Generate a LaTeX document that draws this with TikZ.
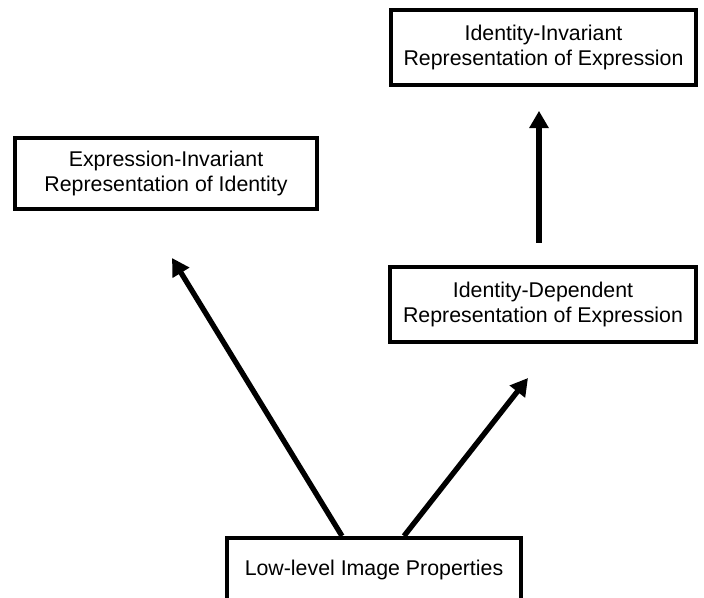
\documentclass[tikz,border=0pt]{standalone}
\usepackage{fontspec}
\setmainfont{Liberation Sans}
\usetikzlibrary{arrows.meta}
\tikzset{
  repbox/.style={
    draw,
    line width=3pt,
    align=center,
    inner sep=0pt,
    minimum width=229pt,
    minimum height=56pt,
    font=\fontsize{16}{19}\selectfont
  },
  bigarrow/.style={
    line width=4pt,
    -{Triangle[length=13pt,width=14pt]}
  }
}

\begin{document}
\begin{tikzpicture}[x=0.75pt, y=-0.75pt]
      \useasboundingbox (0,0) rectangle (704,597);
      \clip (0,0) rectangle (704,597);
        \node[repbox] (expinv) at (543.5,47.5) {Identity-Invariant\\Representation of Expression};
        \node[repbox, minimum width=226.5pt, minimum height=53pt] (idinv) at (166,173.5) {Expression-Invariant\\Representation of Identity};
        \node[repbox] (expdep) at (543,304.5) {Identity-Dependent\\Representation of Expression};
        \node[repbox, minimum width=220.5pt, minimum height=48pt] (lowlevel) at (374,570) {Low-level Image Properties};
      \coordinate (idtip) at (172,258);
      \coordinate (deptip) at (528,378);
      \draw[bigarrow] ([xshift=-24pt]lowlevel.north) -- (idtip);
      \draw[bigarrow] ([xshift=22.5pt]lowlevel.north) -- (deptip);
      \draw[bigarrow, shorten <=17pt, shorten >=18pt] (expdep.north -| 539,0) -- (expinv.south -| 539,0);
\end{tikzpicture}
\end{document}
